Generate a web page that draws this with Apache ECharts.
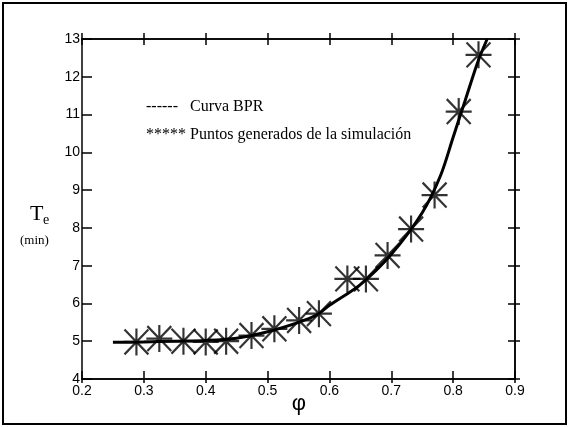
<!DOCTYPE html>
<html>
<head>
<meta charset="utf-8">
<script src="https://cdn.jsdelivr.net/npm/echarts@6/dist/echarts.min.js"></script>
<style>
  html, body { margin: 0; padding: 0; background: #fff; }
  #chart { width: 569px; height: 427px; }
</style>
</head>
<body>
<div id="chart"></div>
<script>
// curva BPR
var curvaPhi = [0.25, 0.30, 0.35, 0.40, 0.45, 0.50, 0.55, 0.58, 0.60, 0.65, 0.70, 0.75, 0.78, 0.80, 0.82, 0.84, 0.855];
var curvaTe  = [4.97, 4.98, 5.00, 5.02, 5.08, 5.25, 5.50, 5.70, 5.95, 6.50, 7.30, 8.40, 9.40, 10.40, 11.40, 12.40, 13.00];

// puntos generados de la simulación
var simPhi = [0.288, 0.325, 0.364, 0.400, 0.433, 0.474, 0.511, 0.551, 0.583, 0.629, 0.659, 0.694, 0.732, 0.770, 0.809, 0.841];
var simTe  = [4.98, 5.07, 5.00, 4.98, 5.00, 5.15, 5.33, 5.55, 5.73, 6.65, 6.65, 7.27, 7.97, 8.87, 11.08, 12.58];

var xTicks = [0.2, 0.3, 0.4, 0.5, 0.6, 0.7, 0.8, 0.9];
var yTicks = [4, 5, 6, 7, 8, 9, 10, 11, 12, 13];

var myChart = echarts.init(document.getElementById('chart'));

var lineStyle = { color: '#000', width: 1.5 };
// asterisco de 8 brazos
var starPath = 'path://M0,50 L100,50 M50,0 L50,100 M4,4 L96,96 M96,4 L4,96';

function pairs(xs, ys) {
    return xs.map(function (x, i) { return [x, ys[i]]; });
}

function xAxisCfg(pos, inside, len, labels) {
    return {
        type: 'value', position: pos,
        min: xTicks[0], max: xTicks[xTicks.length - 1], interval: 0.1,
        axisLine: { show: true, onZero: false, lineStyle: lineStyle },
        axisTick: { show: true, inside: inside, length: len, lineStyle: lineStyle },
        axisLabel: labels ? {
            show: true, color: '#000', fontSize: 14, margin: 5,
            fontFamily: 'Liberation Sans',
            formatter: function (v) { return v.toFixed(1); }
        } : { show: false },
        splitLine: { show: false }
    };
}

function yAxisCfg(pos, inside, len, labels) {
    return {
        type: 'value', position: pos,
        min: yTicks[0], max: yTicks[yTicks.length - 1], interval: 1,
        axisLine: { show: true, onZero: false, lineStyle: lineStyle },
        axisTick: { show: true, inside: inside, length: len, lineStyle: lineStyle },
        axisLabel: labels ? {
            show: true, color: '#000', fontSize: 14, margin: 2,
            fontFamily: 'Liberation Sans'
        } : { show: false },
        splitLine: { show: false }
    };
}

var option = {
    backgroundColor: '#fff',
    animation: false,
    grid: { left: 82, right: 54, top: 39, bottom: 48 },
    xAxis: [
        xAxisCfg('bottom', true, 8, true),
        xAxisCfg('bottom', false, 4, false),
        xAxisCfg('top', true, 6, false),
        xAxisCfg('top', false, 6, false)
    ],
    yAxis: [
        yAxisCfg('left', true, 10, true),
        yAxisCfg('right', true, 7, false),
        yAxisCfg('right', false, 5, false)
    ],
    graphic: [
        { type: 'rect', shape: { x: 3, y: 3, width: 563, height: 421 },
          style: { fill: 'none', stroke: '#000', lineWidth: 2 } },
        { type: 'text', x: 30, y: 214, style: { text: 'T', font: '22px "Liberation Serif"', fill: '#000', textVerticalAlign: 'middle' } },
        { type: 'text', x: 43, y: 220, style: { text: 'e', font: '14px "Liberation Serif"', fill: '#000', textVerticalAlign: 'middle' } },
        { type: 'text', x: 20, y: 241, style: { text: '(min)', font: '13px "Liberation Serif"', fill: '#000', textVerticalAlign: 'middle' } },
        { type: 'text', x: 299, y: 404, style: { text: 'φ', font: '22px "Liberation Sans"', fill: '#000', textAlign: 'center', textVerticalAlign: 'middle' } },
        { type: 'text', x: 146, y: 107, style: { text: '------   Curva BPR', font: '16px "Liberation Serif"', fill: '#000', textVerticalAlign: 'middle' } },
        { type: 'text', x: 146, y: 135, style: { text: '***** Puntos generados de la simulación', font: '16px "Liberation Serif"', fill: '#000', textVerticalAlign: 'middle' } }
    ],
    series: [
        {
            name: 'Curva BPR', type: 'line', xAxisIndex: 0, yAxisIndex: 0,
            data: pairs(curvaPhi, curvaTe),
            smooth: 0.3, showSymbol: false,
            lineStyle: { color: '#000', width: 3 },
            clip: false, z: 3
        },
        {
            name: 'Puntos generados de la simulación', type: 'scatter', xAxisIndex: 0, yAxisIndex: 0,
            data: pairs(simPhi, simTe),
            symbol: starPath, symbolSize: [26, 27],
            itemStyle: { color: 'none', borderColor: '#000', borderWidth: 2.2 },
            z: 4
        }
    ]
};

myChart.setOption(option);
</script>
</body>
</html>
